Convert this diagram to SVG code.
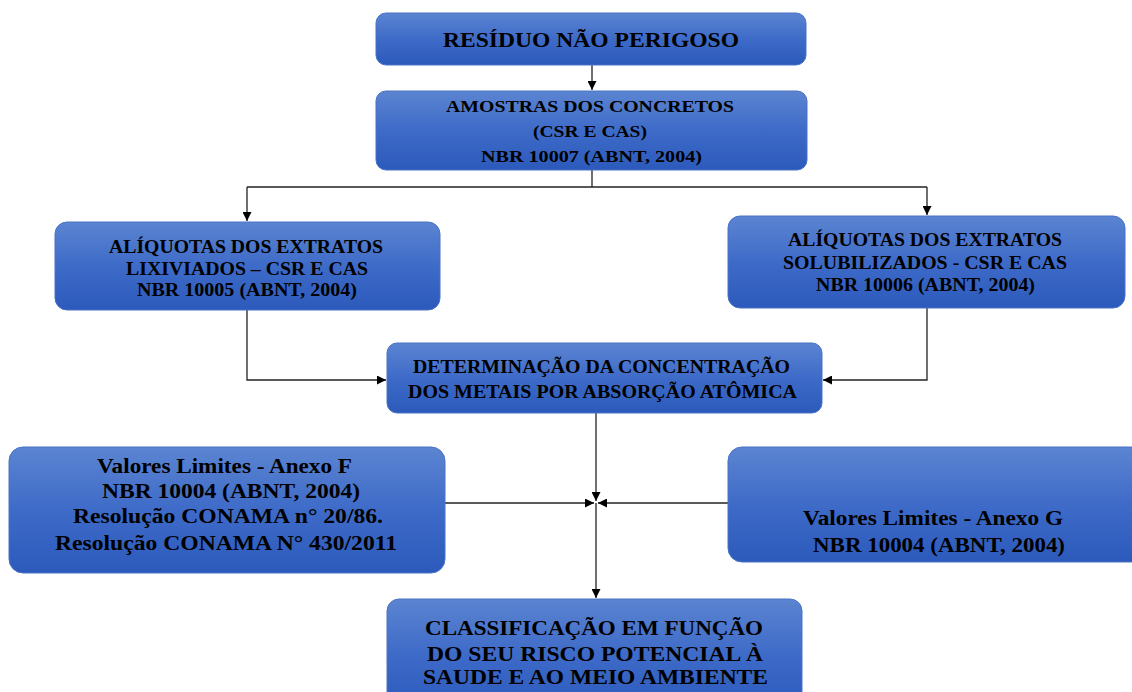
<svg xmlns="http://www.w3.org/2000/svg" width="1132" height="692" viewBox="0 0 1132 692">
<defs>
<linearGradient id="g" x1="0" y1="0" x2="0" y2="1">
<stop offset="0" stop-color="#5b84d1"/>
<stop offset="0.5" stop-color="#3e6bc8"/>
<stop offset="1" stop-color="#2c5abc"/>
</linearGradient>
<marker id="ah" viewBox="0 0 10 10" refX="10" refY="5" markerWidth="9" markerHeight="9" markerUnits="userSpaceOnUse" orient="auto">
<path d="M0,0 L10,5 L0,10 z" fill="#000"/>
</marker>
<style>
.box{fill:url(#g);stroke:#4a72c4;stroke-width:1}
.t{font-family:"Liberation Serif","Times New Roman",serif;font-weight:bold;fill:#000}
.c{fill:none;stroke:#222;stroke-width:1.3}
</style>
</defs>
<rect width="1132" height="692" fill="#fff"/>
<g id="connectors">
<path class="c" d="M592,65 V90" marker-end="url(#ah)"/>
<path class="c" d="M592,170 V187 M247,187 H927"/>
<path class="c" d="M247,187 V221" marker-end="url(#ah)"/>
<path class="c" d="M927,187 V215" marker-end="url(#ah)"/>
<path class="c" d="M247,310 V380 H386" marker-end="url(#ah)"/>
<path class="c" d="M927,308 V380 H823" marker-end="url(#ah)"/>
<path class="c" d="M596,413 V501" marker-end="url(#ah)"/>
<path class="c" d="M445,503 H594" marker-end="url(#ah)"/>
<path class="c" d="M728,503 H598" marker-end="url(#ah)"/>
<path class="c" d="M596,503 V598" marker-end="url(#ah)"/>
</g>
<g id="n1">
<rect class="box" x="376" y="13" width="430" height="52" rx="10"/>
<text class="t" x="443" y="47" font-size="21.5" textLength="296" lengthAdjust="spacingAndGlyphs">RESÍDUO NÃO PERIGOSO</text>
</g>
<g id="n2">
<rect class="box" x="376" y="91" width="431" height="79" rx="10"/>
<text class="t" x="446" y="112" font-size="17.5" textLength="288" lengthAdjust="spacingAndGlyphs">AMOSTRAS DOS CONCRETOS</text>
<text class="t" x="533" y="137" font-size="17.5" textLength="114" lengthAdjust="spacingAndGlyphs">(CSR E CAS)</text>
<text class="t" x="481" y="162" font-size="17.5" textLength="221" lengthAdjust="spacingAndGlyphs">NBR 10007 (ABNT, 2004)</text>
</g>
<g id="n3">
<rect class="box" x="55" y="222" width="385" height="88" rx="12"/>
<text class="t" x="109" y="253" font-size="18" textLength="274" lengthAdjust="spacingAndGlyphs">ALÍQUOTAS  DOS EXTRATOS</text>
<text class="t" x="126" y="275" font-size="18" textLength="242" lengthAdjust="spacingAndGlyphs">LIXIVIADOS  – CSR E CAS</text>
<text class="t" x="137" y="296" font-size="18" textLength="220" lengthAdjust="spacingAndGlyphs">NBR 10005 (ABNT, 2004)</text>
</g>
<g id="n4">
<rect class="box" x="728" y="216" width="397" height="92" rx="12"/>
<text class="t" x="788" y="246" font-size="18" textLength="274" lengthAdjust="spacingAndGlyphs">ALÍQUOTAS  DOS EXTRATOS</text>
<text class="t" x="783" y="269" font-size="18" textLength="284" lengthAdjust="spacingAndGlyphs">SOLUBILIZADOS  - CSR E CAS</text>
<text class="t" x="816" y="291" font-size="18" textLength="219" lengthAdjust="spacingAndGlyphs">NBR 10006 (ABNT, 2004)</text>
</g>
<g id="n5">
<rect class="box" x="387" y="343" width="435" height="70" rx="10"/>
<text class="t" x="413" y="373" font-size="18.5" textLength="377" lengthAdjust="spacingAndGlyphs">DETERMINAÇÃO  DA CONCENTRAÇÃO</text>
<text class="t" x="408" y="398" font-size="18.5" textLength="389" lengthAdjust="spacingAndGlyphs">DOS METAIS POR ABSORÇÃO ATÔMICA</text>
</g>
<g id="n6">
<rect class="box" x="9" y="447" width="436" height="126" rx="14"/>
<text class="t" x="97" y="473" font-size="20.5" textLength="255" lengthAdjust="spacingAndGlyphs">Valores Limites  - Anexo F</text>
<text class="t" x="102" y="498" font-size="20.5" textLength="258" lengthAdjust="spacingAndGlyphs">NBR 10004 (ABNT, 2004)</text>
<text class="t" x="73" y="523" font-size="20.5" textLength="310" lengthAdjust="spacingAndGlyphs">Resolução CONAMA n° 20/86.</text>
<text class="t" x="55" y="550" font-size="20.5" textLength="342" lengthAdjust="spacingAndGlyphs">Resolução CONAMA N° 430/2011</text>
</g>
<g id="n7">
<rect class="box" x="728" y="447" width="420" height="115" rx="14"/>
<text class="t" x="803" y="525" font-size="20.5" textLength="260" lengthAdjust="spacingAndGlyphs">Valores Limites  - Anexo G</text>
<text class="t" x="813" y="552" font-size="20.5" textLength="252" lengthAdjust="spacingAndGlyphs">NBR 10004 (ABNT, 2004)</text>
</g>
<g id="n8">
<rect class="box" x="387" y="599" width="415" height="110" rx="12"/>
<text class="t" x="425" y="635" font-size="21.5" textLength="338" lengthAdjust="spacingAndGlyphs">CLASSIFICAÇÃO EM FUNÇÃO</text>
<text class="t" x="427" y="661" font-size="21.5" textLength="336" lengthAdjust="spacingAndGlyphs">DO SEU RISCO POTENCIAL À</text>
<text class="t" x="423" y="684" font-size="21.5" textLength="345" lengthAdjust="spacingAndGlyphs">SAUDE E AO MEIO AMBIENTE</text>
</g>
</svg>
